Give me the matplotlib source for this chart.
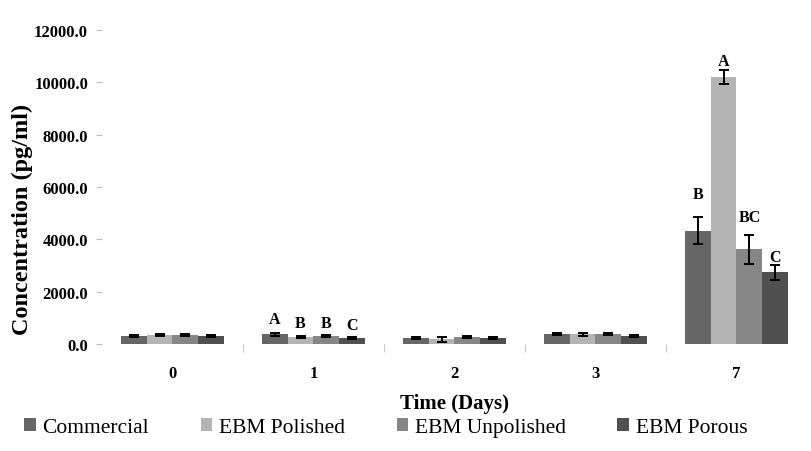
import matplotlib
matplotlib.use('Agg')
import matplotlib.pyplot as plt
import numpy as np

# Chart data
days = ['0', '1', '2', '3', '7']
series = ['Commercial', 'EBM Polished', 'EBM Unpolished', 'EBM Porous']
commercial = [320, 380, 230, 380, 4330]
polished = [340, 280, 180, 380, 10210]
unpolished = [350, 290, 265, 380, 3620]
porous = [320, 230, 230, 310, 2740]
commercial_err = [40, 60, 40, 50, 520]
polished_err = [40, 40, 90, 60, 250]
unpolished_err = [40, 40, 40, 40, 550]
porous_err = [40, 40, 40, 40, 300]
letters_day1 = ['A', 'B', 'B', 'C']
letters_day7 = ['B', 'A', 'BC', 'C']
yticks = [0, 2000, 4000, 6000, 8000, 10000, 12000]

colors = ['#666666', '#b4b4b4', '#868686', '#505050']
values = [commercial, polished, unpolished, porous]
errors = [commercial_err, polished_err, unpolished_err, porous_err]

plt.rcParams['font.family'] = ['Liberation Serif', 'DejaVu Serif']

fig = plt.figure(figsize=(8.12, 4.52), dpi=100)
ax = fig.add_axes([0.1256, 0.2367, 0.8682, 0.6943])

x = np.arange(len(days))
width = 0.183
for i, (vals, errs) in enumerate(zip(values, errors)):
    pos = x + (i - 1.5) * width
    ax.bar(pos, vals, width, color=colors[i], label=series[i], zorder=2)
    ax.errorbar(pos, vals, yerr=errs, fmt='none', ecolor='black',
                elinewidth=1.4, capsize=3.5, capthick=1.4, zorder=3)

# significance letters
day1_offsets = [4, 3, 3, 3]   # points above bar+err
day7_offsets = [11, 1, 7, 0]
for i in range(4):
    pos1 = x[1] + (i - 1.5) * width
    ax.annotate(letters_day1[i], (pos1, values[i][1] + errors[i][1]),
                xytext=(0, day1_offsets[i]), textcoords='offset points',
                ha='center', va='bottom', fontsize=11.5, fontweight='bold')
    pos7 = x[4] + (i - 1.5) * width
    ax.annotate(letters_day7[i], (pos7, values[i][4] + errors[i][4]),
                xytext=(0, day7_offsets[i]), textcoords='offset points',
                ha='center', va='bottom', fontsize=11.5, fontweight='bold')

ax.set_xlim(-0.5, len(days) - 0.5)
ax.set_ylim(0, 12000)
ax.set_yticks(yticks)
ax.set_yticklabels([f'{v:.1f}' for v in yticks], fontsize=12, fontweight='bold')
ax.set_xticks(x)
ax.set_xticklabels(days, fontsize=12, fontweight='bold')
ax.set_xticks(np.arange(0.5, len(days) - 0.5, 1), minor=True)
ax.tick_params(axis='x', which='major', length=0, pad=15)
ax.tick_params(axis='x', which='minor', length=6, color='#bbbbbb', direction='out')
ax.tick_params(axis='y', length=4, color='#bbbbbb', pad=6)
for s in ax.spines.values():
    s.set_visible(False)

ax.set_ylabel('Concentration (pg/ml)', fontsize=17.5, fontweight='bold')
ax.yaxis.set_label_coords(-0.098, 0.4)
ax.set_xlabel('Time (Days)', fontsize=15, fontweight='bold', labelpad=9)

fig.legend(loc='center', bbox_to_anchor=(0.475, 0.052), ncol=4, frameon=False,
           fontsize=15.5, handlelength=0.55, handleheight=0.55, handletextpad=0.3,
           columnspacing=2.4)

plt.savefig('out.png', dpi=100)
